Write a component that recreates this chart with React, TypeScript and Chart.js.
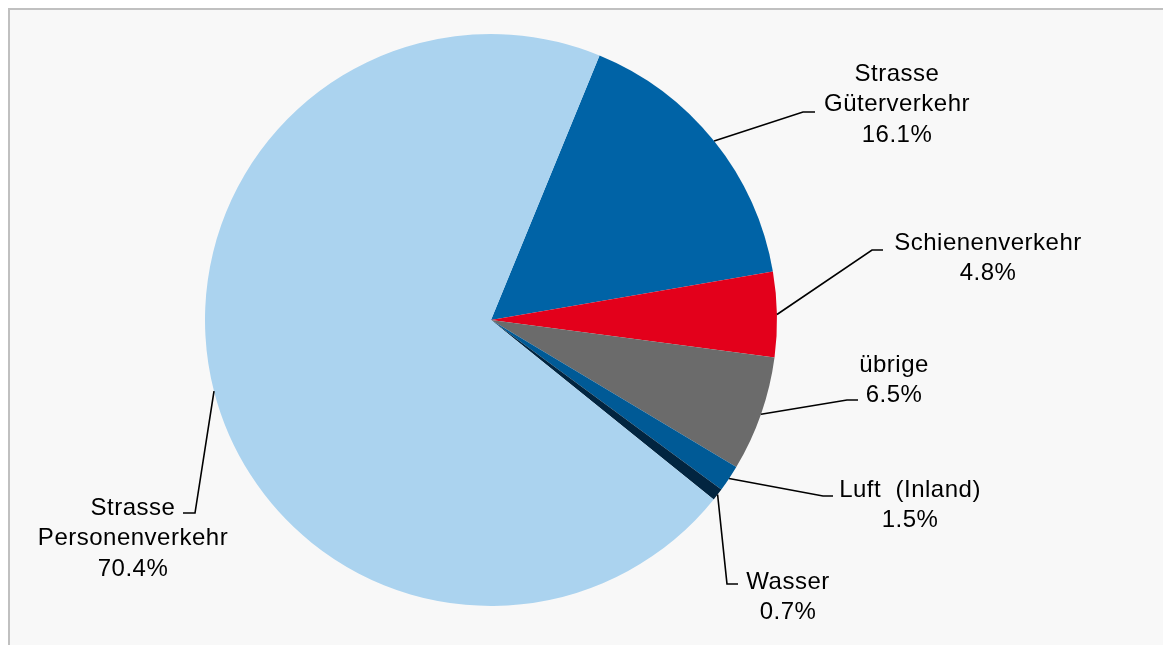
import React, { useEffect, useRef } from "react";
import { Chart, registerables } from "chart.js";

Chart.register(...registerables);

const categories: string[][] = [
  ["Strasse", "Güterverkehr"],
  ["Schienenverkehr"],
  ["übrige"],
  ["Luft  (Inland)"],
  ["Wasser"],
  ["Strasse", "Personenverkehr"],
];
const shares: number[] = [16.1, 4.8, 6.5, 1.5, 0.7, 70.4];
const colors: string[] = ["#0063A6", "#E3001B", "#6B6B6B", "#005A96", "#022540", "#ABD3EF"];

// label layout, offsets relative to pie centre (px)
const labelLayout = [
  { elbow: [312, -208], end: [324, -208], tx: 406, ty: -246 },
  { elbow: [381, -70], end: [392, -70], tx: 497, ty: -77 },
  { elbow: [356, 80], end: [367, 80], tx: 403, ty: 45 },
  { elbow: [332, 176], end: [342, 176], tx: 419, ty: 170 },
  { elbow: [236, 264], end: [247, 264], tx: 297, ty: 262 },
  { elbow: [-296, 193], end: [-308, 193], tx: -358, ty: 188 },
];

const labelPlugin = {
  id: "pieLabels",
  afterDatasetsDraw(chart: any) {
    const ctx = chart.ctx as CanvasRenderingContext2D;
    const meta = chart.getDatasetMeta(0);
    ctx.save();
    meta.data.forEach((arc: any, i: number) => {
      const p = arc.getProps(["x", "y", "startAngle", "endAngle", "outerRadius"], true);
      const mid = (p.startAngle + p.endAngle) / 2;
      const sx = p.x + Math.cos(mid) * p.outerRadius;
      const sy = p.y + Math.sin(mid) * p.outerRadius;
      const L = labelLayout[i];
      ctx.strokeStyle = "#000";
      ctx.lineWidth = 1.6;
      ctx.beginPath();
      ctx.moveTo(sx, sy);
      ctx.lineTo(p.x + L.elbow[0], p.y + L.elbow[1]);
      ctx.lineTo(p.x + L.end[0], p.y + L.end[1]);
      ctx.stroke();
      const lines = [...categories[i], shares[i].toFixed(1) + "%"];
      ctx.fillStyle = "#000";
      ctx.font = '24px "Liberation Sans", Arial, sans-serif';
      (ctx as any).letterSpacing = "0.5px";
      ctx.textAlign = "center";
      ctx.textBaseline = "middle";
      lines.forEach((t, k) => {
        ctx.fillText(t, p.x + L.tx, p.y + L.ty + k * 30.5);
      });
    });
    ctx.restore();
  },
};

export default function App() {
  const ref = useRef<HTMLCanvasElement | null>(null);
  useEffect(() => {
    if (!ref.current) return;
    const chart = new Chart(ref.current, {
      type: "pie",
      data: {
        labels: categories.map((c) => c.join(" ")),
        datasets: [
          {
            data: shares,
            backgroundColor: colors,
            borderWidth: 0,
          },
        ],
      },
      options: {
        animation: false,
        responsive: false,
        rotation: 22.3,
        layout: { padding: { left: 195, right: 386, top: 24, bottom: 39 } },
        plugins: {
          legend: { display: false },
          tooltip: { enabled: false },
          title: { display: false },
        },
      },
      plugins: [labelPlugin],
    });
    return () => chart.destroy();
  }, []);
  return (
    <div
      style={{
        position: "fixed",
        left: 8,
        top: 8,
        right: 0,
        bottom: 0,
        borderLeft: "2px solid #C0C0C0",
        borderTop: "2px solid #C0C0C0",
        background: "#F8F8F8",
        overflow: "hidden",
      }}
    >
      <canvas ref={ref} width={1153} height={635} style={{ display: "block" }} />
    </div>
  );
}
